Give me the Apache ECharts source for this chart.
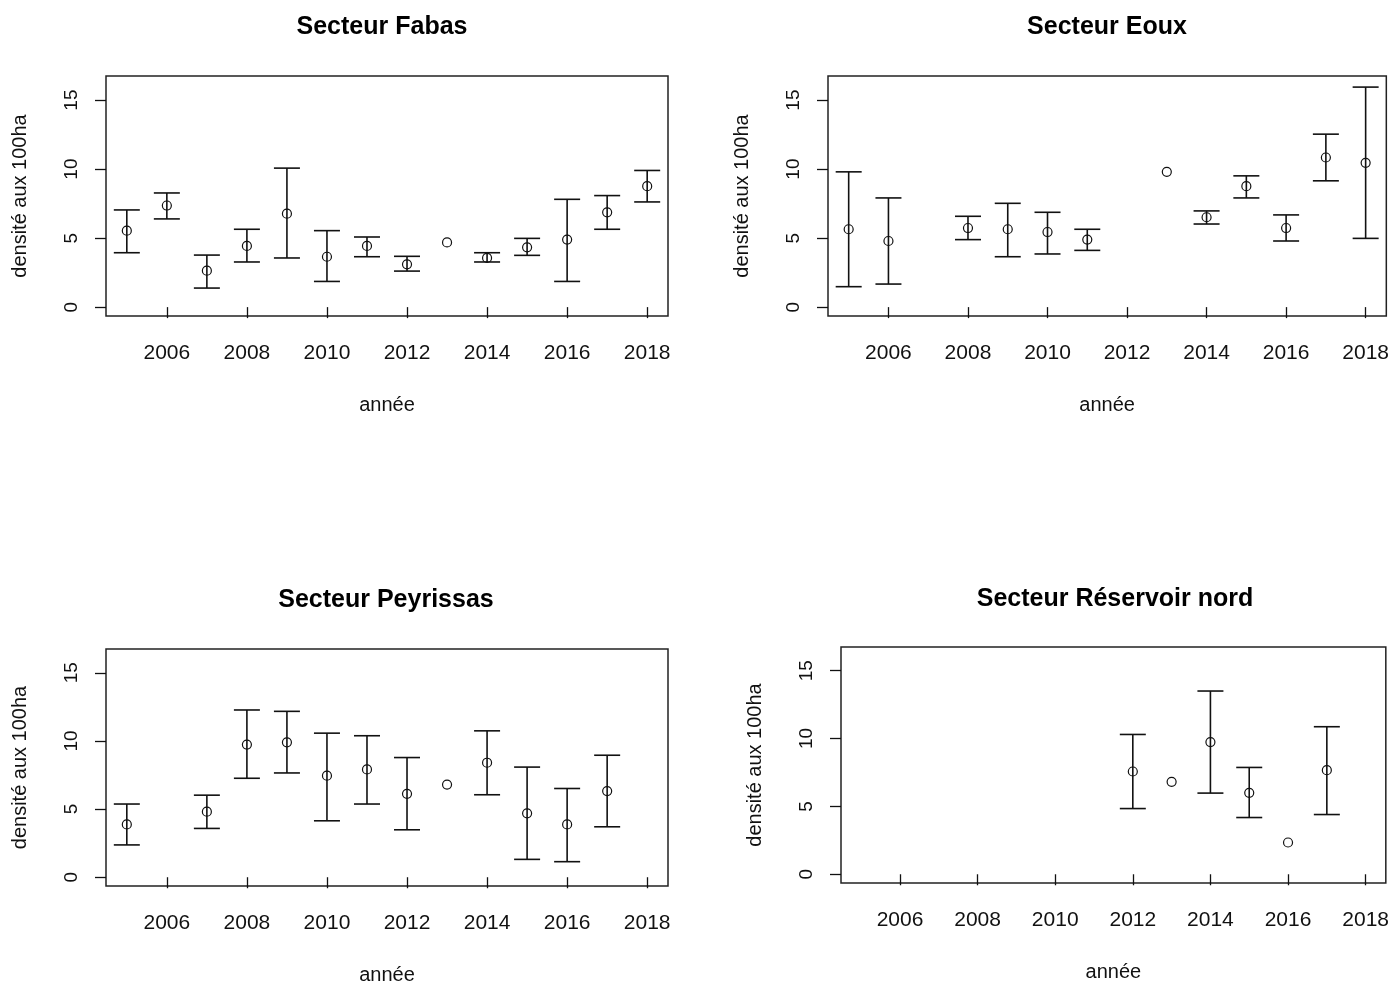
<!DOCTYPE html>
<html>
<head>
<meta charset="utf-8">
<script src="https://cdn.jsdelivr.net/npm/echarts@6/dist/echarts.min.js"></script>
<style>html,body{margin:0;padding:0;background:#fff;}#c{width:1392px;height:986px;}</style>
</head>
<body>
<div id="c"></div>
<script>
const years = [2005,2006,2007,2008,2009,2010,2011,2012,2013,2014,2015,2016,2017,2018];
const xTicks = [2006,2008,2010,2012,2014,2016,2018];
const yTicks = [0,5,10,15];
const titles = ['Secteur Fabas','Secteur Eoux','Secteur Peyrissas','Secteur Réservoir nord'];
const xName = 'année';
const yName = 'densité aux 100ha';

const fabasMean = [5.54,7.36,2.64,4.43,6.77,3.65,4.43,3.10,4.69,3.56,4.33,4.89,6.87,8.76];
const fabasLo   = [3.94,6.39,1.38,3.27,3.56,1.86,3.65,2.61,null,3.27,3.75,1.86,5.64,7.62];
const fabasHi   = [7.04,8.27,3.77,5.64,10.07,5.54,5.08,3.68,null,3.94,4.98,7.81,8.08,9.90];

const eouxMean = [5.64,4.79,null,5.73,5.64,5.44,4.89,null,9.80,6.51,8.76,5.73,10.84,10.45];
const eouxLo   = [1.48,1.67,null,4.89,3.65,3.85,4.11,null,null,6.02,7.91,4.79,9.15,4.98];
const eouxHi   = [9.80,7.91,null,6.58,7.52,6.87,5.64,null,null,6.97,9.51,6.68,12.53,15.94];

const peyMean = [3.87,null,4.81,9.73,9.90,7.45,7.91,6.12,6.80,8.40,4.69,3.87,6.32,null];
const peyLo   = [2.37,null,3.58,7.26,7.65,4.14,5.37,3.48,null,6.05,1.31,1.14,3.70,null];
const peyHi   = [5.37,null,6.02,12.27,12.17,10.57,10.38,8.78,null,10.74,8.08,6.51,8.95,null];

const resMean = [null,null,null,null,null,null,null,7.57,6.81,9.74,6.00,2.34,7.67,null];
const resLo   = [null,null,null,null,null,null,null,4.84,null,5.98,4.18,null,4.40,null];
const resHi   = [null,null,null,null,null,null,null,10.30,null,13.50,7.87,null,10.87,null];

const sectors = [
  {mean: fabasMean, lo: fabasLo, hi: fabasHi},
  {mean: eouxMean, lo: eouxLo, hi: eouxHi},
  {mean: peyMean, lo: peyLo, hi: peyHi},
  {mean: resMean, lo: resLo, hi: resHi}
];

const grids = [
  {left: 106, top: 76, width: 562, height: 240},
  {left: 828, top: 76, width: 563, height: 240},
  {left: 106, top: 649, width: 562, height: 240},
  {left: 841, top: 647, width: 550, height: 236}
];
const titlePos = [[382,27],[1107,27],[386,600],[1115,599]];
const FONT = '"Liberation Sans", Arial, sans-serif';

const option = {
  animation: false,
  backgroundColor: '#fff',
  grid: grids.map(g => Object.assign({show: true, borderColor: '#222', borderWidth: 1.5, backgroundColor: 'transparent'}, g)),
  xAxis: grids.map((g, i) => ({
    type: 'value', gridIndex: i, min: 2004.48, max: 2018.52,
    axisLine: {show: false},
    splitLine: {show: false},
    axisTick: {show: true, customValues: xTicks, length: 11, lineStyle: {color: '#111', width: 1.3}},
    axisLabel: {customValues: xTicks, fontSize: 21, color: '#111', fontFamily: FONT, margin: 27, formatter: v => String(v)},
    name: xName, nameLocation: 'middle', nameGap: 79,
    nameTextStyle: {fontSize: 20, color: '#111', fontFamily: FONT}
  })),
  yAxis: grids.map((g, i) => ({
    type: 'value', gridIndex: i, min: -0.644, max: 16.744,
    axisLine: {show: false},
    splitLine: {show: false},
    axisTick: {show: true, customValues: yTicks, length: 11, lineStyle: {color: '#111', width: 1.3}},
    axisLabel: {customValues: yTicks, fontSize: 19, color: '#111', fontFamily: FONT, rotate: 90, margin: 25, formatter: v => String(v)},
    name: yName, nameLocation: 'middle', nameGap: 76, nameRotate: 90,
    nameTextStyle: {fontSize: 20, color: '#111', fontFamily: FONT}
  })),
  graphic: titles.map((t, i) => ({
    type: 'text', x: titlePos[i][0], y: titlePos[i][1],
    style: {text: t, fontSize: 25, fontWeight: 'bold', fontFamily: FONT, fill: '#000', align: 'center', verticalAlign: 'middle'}
  })),
  series: sectors.map((s, i) => {
    const rows = [];
    years.forEach((y, k) => { if (s.mean[k] != null) rows.push([y, s.mean[k], s.lo[k], s.hi[k]]); });
    return {
      type: 'custom', xAxisIndex: i, yAxisIndex: i,
      data: rows.map(r => [r[0], r[1]]),
      encode: {x: 0, y: 1},
      clip: false,
      renderItem: function (params, api) {
        const r = rows[params.dataIndex];
        const c = api.coord([r[0], r[1]]);
        const children = [];
        const ls = {stroke: '#111', lineWidth: 1.6, fill: null};
        if (r[2] != null && r[3] != null) {
          const pl = api.coord([r[0], r[2]]);
          const ph = api.coord([r[0], r[3]]);
          const cw = 13;
          children.push({type: 'line', shape: {x1: pl[0], y1: pl[1], x2: ph[0], y2: ph[1]}, style: ls});
          children.push({type: 'line', shape: {x1: pl[0]-cw, y1: pl[1], x2: pl[0]+cw, y2: pl[1]}, style: ls});
          children.push({type: 'line', shape: {x1: ph[0]-cw, y1: ph[1], x2: ph[0]+cw, y2: ph[1]}, style: ls});
        }
        children.push({type: 'circle', shape: {cx: c[0], cy: c[1], r: 4.5}, style: {stroke: '#111', lineWidth: 1.2, fill: null}});
        return {type: 'group', children: children};
      }
    };
  })
};

const chart = echarts.init(document.getElementById('c'), null, {renderer: 'canvas'});
chart.setOption(option);
</script>
</body>
</html>
